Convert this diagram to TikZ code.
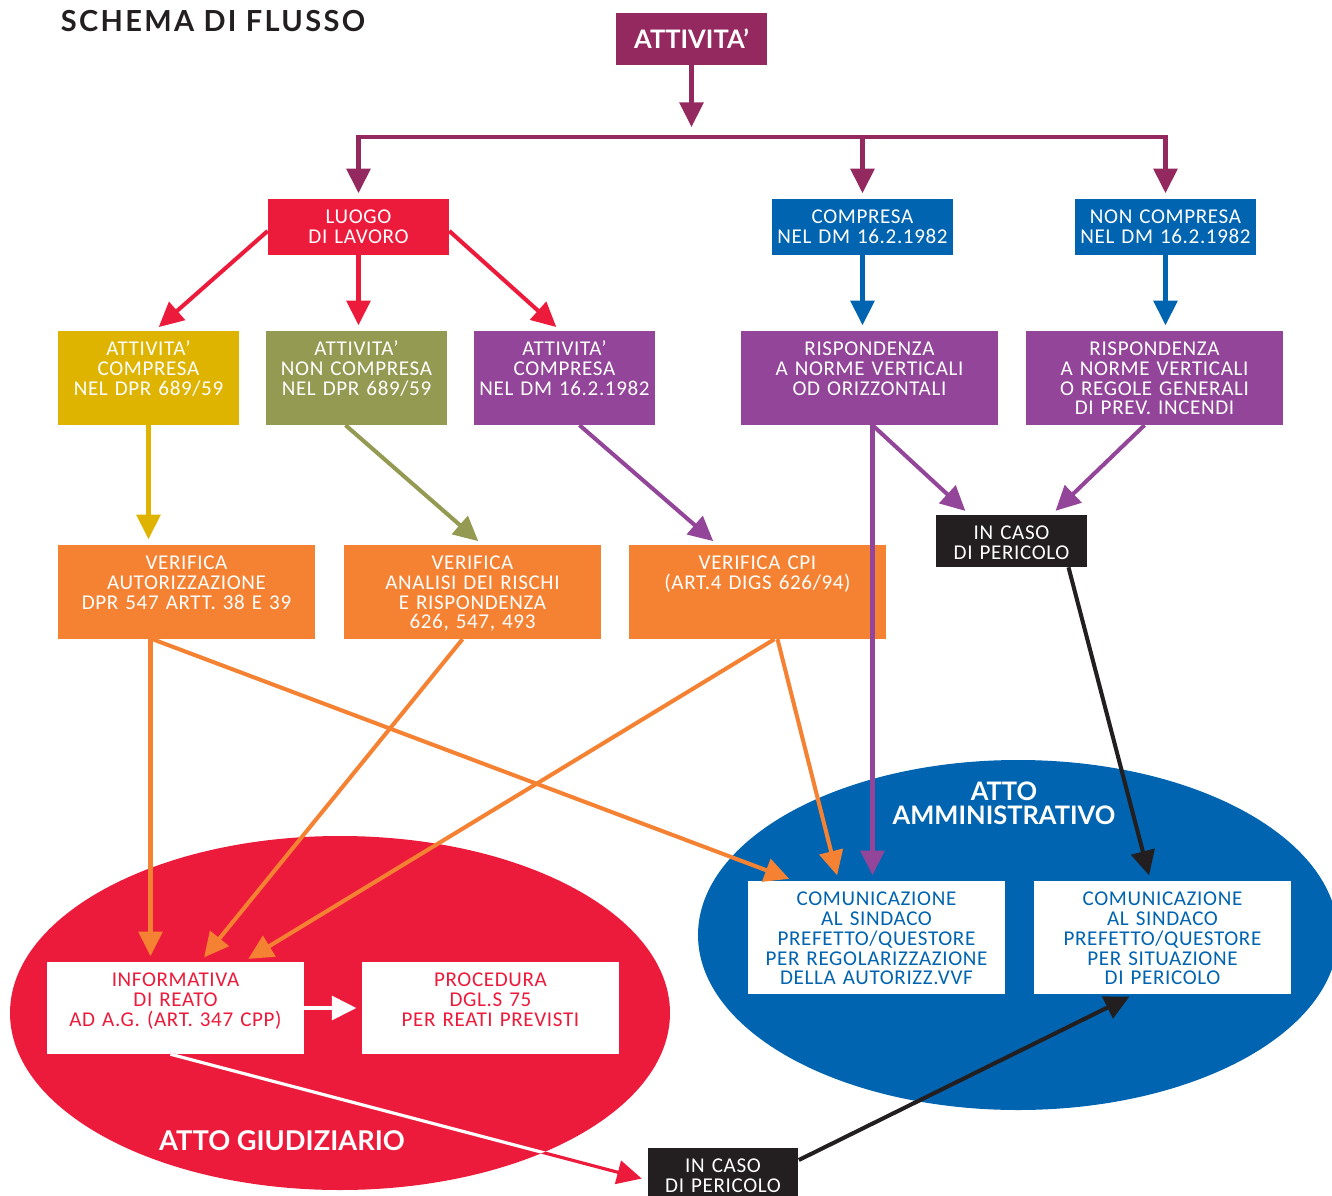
\documentclass[tikz,border=0pt]{standalone}
\usepackage{fontspec}
\setmainfont{Carlito}[LetterSpace=3]
\newfontfamily\headfont{Lato}
\usetikzlibrary{arrows.meta, calc}

\definecolor{attcol}{HTML}{93295E}
\definecolor{redcol}{HTML}{ED1B3B}
\definecolor{yelcol}{HTML}{DFB400}
\definecolor{olivecol}{HTML}{949A52}
\definecolor{purcol}{HTML}{934599}
\definecolor{bluecol}{HTML}{0064B0}
\definecolor{orcol}{HTML}{F58232}
\definecolor{nero}{HTML}{231F20}

\newcommand{\boxfont}{\fontsize{12}{11.3}\selectfont}

\begin{document}
\begin{tikzpicture}[x=0.02cm, y=-0.02cm,
    % Styles
    box/.style={inner sep=0pt, align=center, text height=13.8pt, text=white, font=\boxfont},
    narrow/.style={box, text width=3.62cm},
    wide/.style={box, text width=5.14cm},
    small/.style={box, text width=3.02cm, text depth=15.7pt},
    short/.style={text depth=17.9pt},
    tall/.style={text depth=39.5pt},
    head/.style={font=\headfont\bfseries\fontsize{14.5}{13.6}\selectfont, text=white, align=center, inner sep=0pt},
    link/.style={draw=#1, line width=2.3pt, -{Triangle[length=14pt, width=13.5pt]}, shorten >=3.2pt},
    bar/.style={draw=#1, line width=2.3pt}
  ]
  \useasboundingbox (0,0) rectangle (1332,1196);

  % === Ellipses (background) ===
  \fill[bluecol] (1018,935) ellipse [x radius=320, y radius=175];
  \fill[redcol] (340,1013) ellipse [x radius=330, y radius=177];

  % === Title ===
  \node[font=\headfont\bfseries\fontsize{16.5}{16}\selectfont, text=nero] (titolo) at (213,21)
    {\addfontfeature{LetterSpace=8}SCHEMA DI FLUSSO};

  % === Top ===
  \node[head, fill=attcol, minimum width=3.02cm, minimum height=1.04cm] (att) at (691.5,39) {ATTIVITA’};

  \node[narrow, short, fill=redcol] (luogo) at (358.5,227) {LUOGO\\DI LAVORO};
  \node[narrow, short, fill=bluecol] (comp) at (862.5,227) {COMPRESA\\NEL DM 16.2.1982};
  \node[narrow, short, fill=bluecol] (nonc) at (1165.5,227) {NON COMPRESA\\NEL DM 16.2.1982};

  % === Second row ===
  \node[narrow, tall, fill=yelcol] (yel) at (148.5,378) {ATTIVITA’\\COMPRESA\\NEL DPR 689/59};
  \node[narrow, tall, fill=olivecol] (oli) at (356.5,378) {ATTIVITA’\\NON COMPRESA\\NEL DPR 689/59};
  \node[narrow, tall, fill=purcol] (pur1) at (564.5,378) {ATTIVITA’\\COMPRESA\\NEL DM 16.2.1982};
  \node[wide, tall, fill=purcol] (risp1) at (869.5,378) {RISPONDENZA\\A NORME VERTICALI\\OD ORIZZONTALI};
  \node[wide, tall, fill=purcol] (risp2) at (1154.5,378) {RISPONDENZA\\A NORME VERTICALI\\O REGOLE GENERALI\\DI PREV. INCENDI};

  \node[small, fill=nero] (per1) at (1011.5,541) {IN CASO\\DI PERICOLO};

  % === Verifiche ===
  \node[wide, tall, fill=orcol] (ver1) at (186.5,592) {VERIFICA\\AUTORIZZAZIONE\\DPR 547 ARTT. 38 E 39};
  \node[wide, tall, fill=orcol] (ver2) at (472.5,592) {VERIFICA\\ANALISI DEI RISCHI\\E RISPONDENZA\\626, 547, 493};
  \node[wide, tall, fill=orcol] (cpi) at (757.5,592) {VERIFICA CPI\\(ART.4 DIGS 626/94)};

  % === Atti ===
  \node[head] (amm) at (1004,803) {ATTO\\AMMINISTRATIVO};
  \node[head, font=\headfont\bfseries\fontsize{15.5}{14}\selectfont] (giu) at (282,1141) {ATTO GIUDIZIARIO};

  \node[wide, text depth=50.3pt, fill=white, text=bluecol] (comm1) at (876.5,937.5)
    {COMUNICAZIONE\\AL SINDACO\\PREFETTO/QUESTORE\\PER REGOLARIZZAZIONE\\DELLA AUTORIZZ.VVF};
  \node[wide, text depth=50.3pt, fill=white, text=bluecol] (comm2) at (1162.5,937.5)
    {COMUNICAZIONE\\AL SINDACO\\PREFETTO/QUESTORE\\PER SITUAZIONE\\DI PERICOLO};

  \node[wide, text depth=38.4pt, fill=white, text=redcol] (inf) at (175.5,1008)
    {INFORMATIVA\\DI REATO\\AD A.G. (ART. 347 CPP)};
  \node[wide, text depth=38.4pt, fill=white, text=redcol] (proc) at (490.5,1008)
    {PROCEDURA\\DGL.S 75\\PER REATI PREVISTI};

  \node[small, fill=nero] (per2) at (723,1174) {IN CASO\\DI PERICOLO};

  % === Connectors ===
  \coordinate (bus) at (691.5,137);
  \draw[link=attcol, shorten >=5.7pt] (att) -- (bus);
  \draw[bar=attcol, line cap=rect] (luogo.north |- bus) -- (nonc.north |- bus);
  \draw[link=attcol] (luogo.north |- bus) -- (luogo.north);
  \draw[link=attcol] (comp.north |- bus) -- (comp.north);
  \draw[link=attcol] (nonc.north |- bus) -- (nonc.north);

  \draw[link=redcol] ($(luogo.west)+(0,4)$) -- ($(yel.north)+(6,0)$);
  \draw[link=redcol] (luogo.south) -- (luogo.south |- oli.north);
  \draw[link=redcol] ($(luogo.east)+(0,4)$) -- ($(pur1.north)+(-4,0)$);

  \draw[link=bluecol] (comp.south) -- (comp.south |- risp1.north);
  \draw[link=bluecol] (nonc.south) -- (nonc.south |- risp2.north);

  \draw[link=yelcol] (yel.south) -- (yel.south |- ver1.north);
  \draw[link=olivecol] ($(oli.south)+(-11,0)$) -- ($(ver2.north)+(10,0)$);
  \draw[link=purcol] ($(pur1.south)+(15,0)$) -- ($(cpi.north)+(-40,0)$);

  \draw[link=purcol] ($(risp1.south)+(3,0)$) -- ($(per1.north)+(-42,0)$);
  \draw[link=purcol] ($(risp2.south)+(-10,0)$) -- ($(per1.north)+(40,0)$);
  \draw[link=purcol] ($(risp1.south)+(3,0)$) -- ($(comm1.north)+(-4,0)$);

  \draw[link=nero] ($(per1.south)+(57,0)$) -- ($(comm2.north)+(-12,0)$);

  \draw[link=orcol] ($(ver1.south)+(-36,0)$) -- ($(inf.north)+(-25,0)$);
  \draw[link=orcol] ($(ver1.south)+(-34,0)$) -- ($(comm1.north)+(-82,0)$);
  \draw[link=orcol] ($(ver2.south)+(-10,0)$) -- ($(inf.north)+(25,0)$);
  \draw[link=orcol] ($(cpi.south)+(17,0)$) -- ($(inf.north)+(68,0)$);
  \draw[link=orcol] ($(cpi.south)+(20,0)$) -- ($(comm1.north)+(-38,0)$);

  \draw[link=white, shorten >=3pt] (inf.east) -- (proc.west);

  \draw[link=redcol, line width=1.8pt] ($(inf.south)+(-5,0)$) -- ($(per2.west)+(0,6)$);
  \begin{scope}
    \clip (340,1013) ellipse [x radius=330, y radius=177];
    \draw[white, line width=1.8pt] ($(inf.south)+(-5,0)$) -- ($(per2.west)+(0,6)$);
  \end{scope}

  \draw[link=nero] ($(per2.east)+(0,-14)$) -- ($(comm2.south)+(-28,0)$);

\end{tikzpicture}
\end{document}
